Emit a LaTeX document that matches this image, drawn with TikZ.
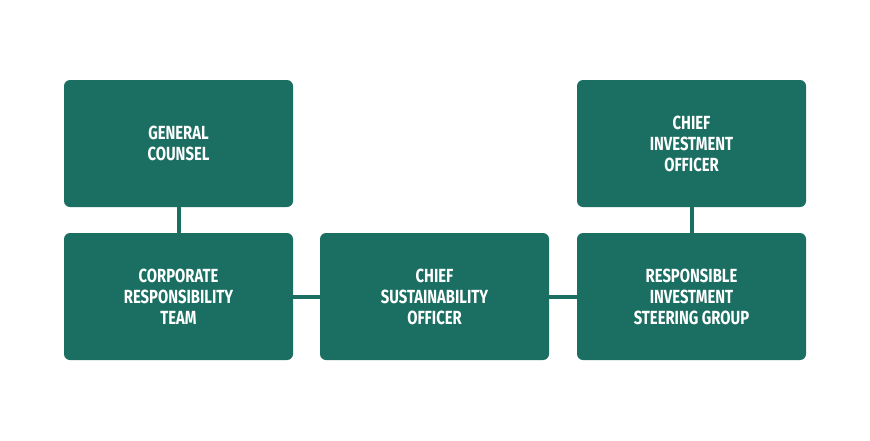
\documentclass[tikz,border=0pt]{standalone}
\usepackage{fontspec}
\setmainfont{Fira Sans}[FakeStretch=0.78]
\definecolor{boxg}{HTML}{1B6F62}
\begin{document}
\begin{tikzpicture}[x=1pt,y=-1pt,
  box/.style={fill=boxg,rounded corners=6pt,minimum width=229pt,minimum height=127pt,text=white,align=center,font=\bfseries\fontsize{19}{21}\selectfont},
  link/.style={draw=boxg,line width=4pt}]
\useasboundingbox (0,0) rectangle (870,440);
\node[box] (gc) at (178.5,143.5) {GENERAL\\COUNSEL};
\node[box] (crt) at (178.5,296.5) {CORPORATE\\RESPONSIBILITY\\TEAM};
\node[box] (cso) at (434.5,296.5) {CHIEF\\SUSTAINABILITY\\OFFICER};
\node[box] (risg) at (691.5,296.5) {RESPONSIBLE\\INVESTMENT\\STEERING GROUP};
\node[box] (cio) at (691.5,143.5) {CHIEF\\INVESTMENT\\OFFICER};
\draw[link] (gc) -- (crt);
\draw[link] (crt) -- (cso);
\draw[link] (cso) -- (risg);
\draw[link] (cio) -- (risg);
\end{tikzpicture}
\end{document}
